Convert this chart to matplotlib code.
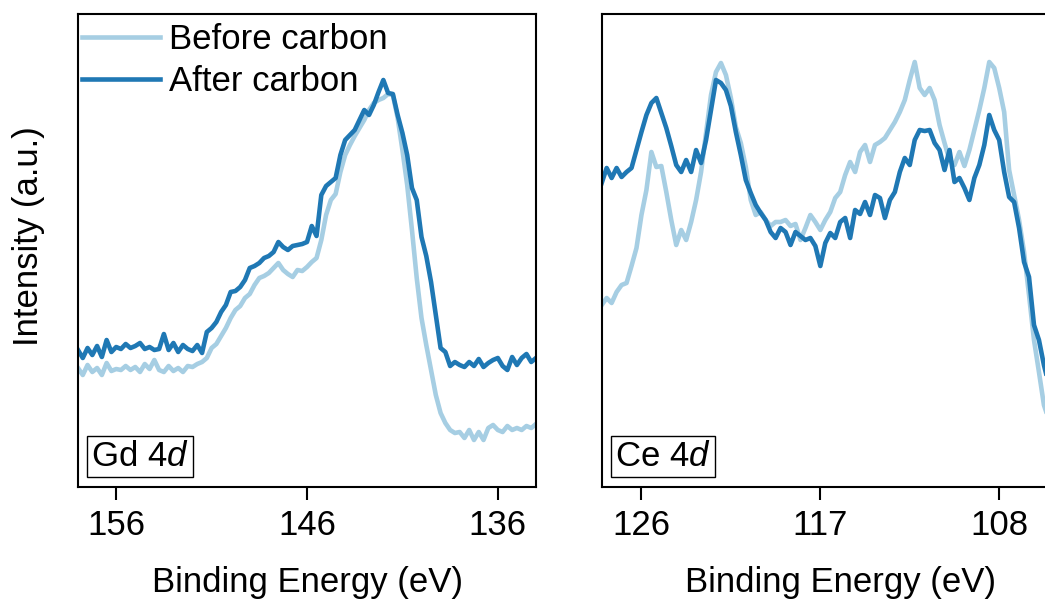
import numpy as np
import matplotlib
matplotlib.use("Agg")
import matplotlib.pyplot as plt

plt.rcParams["font.family"] = ["Liberation Sans", "DejaVu Sans"]
plt.rcParams["mathtext.fontset"] = "custom"
plt.rcParams["mathtext.rm"] = "Liberation Sans"
plt.rcParams["mathtext.it"] = "Liberation Sans:italic"

# ---- Gd 4d region: binding energy grid (eV), 0.25 eV steps from 158 to 134
gd_energy = np.arange(158.0, 133.99, -0.25)
gd_before = [
    119, 112, 122, 115, 119, 112, 124, 116, 118, 117,
    121, 117, 120, 115, 123, 118, 127, 117, 115, 121,
    116, 119, 115, 121, 120, 123, 125, 129, 139, 143,
    151, 159, 169, 177, 181, 189, 193, 202, 209, 211,
    214, 219, 224, 217, 213, 210, 217, 216, 220, 225,
    229, 247, 272, 287, 293, 315, 332, 342, 351, 359,
    367, 377, 384, 387, 389, 393, 392, 369, 337, 302,
    257, 209, 169, 142, 117, 92, 74, 64, 57, 54,
    55, 49, 57, 47, 55, 47, 59, 62, 57, 55,
    61, 57, 59, 57, 61, 59, 63,
]
gd_after = [
    137, 129, 139, 132, 141, 130, 147, 135, 140, 138,
    143, 139, 141, 144, 138, 140, 137, 138, 153, 137,
    144, 135, 142, 138, 136, 142, 134, 155, 159, 165,
    175, 182, 195, 196, 200, 207, 219, 221, 224, 229,
    231, 235, 245, 240, 237, 241, 242, 243, 245, 261,
    251, 292, 301, 305, 309, 332, 347, 352, 357, 367,
    377, 372, 382, 395, 407, 394, 393, 372, 354, 332,
    299, 287, 250, 231, 205, 172, 139, 135, 121, 125,
    122, 120, 125, 121, 128, 120, 124, 127, 129, 121,
    117, 130, 122, 129, 133, 125, 129,
]

# ---- Ce 4d region: binding energy grid (eV), 0.25 eV steps from 128 to 105.5
ce_energy = np.arange(128.0, 105.49, -0.25)
ce_before = [
    182, 189, 184, 195, 202, 204, 221, 239, 272, 297,
    335, 320, 321, 295, 267, 242, 257, 247, 265, 287,
    315, 354, 392, 415, 424, 412, 389, 360, 344, 320,
    287, 272, 275, 267, 261, 265, 265, 267, 261, 263,
    247, 259, 272, 265, 257, 267, 275, 289, 295, 312,
    325, 315, 335, 342, 325, 342, 345, 349, 357, 365,
    375, 387, 407, 425, 399, 392, 399, 387, 362, 344,
    327, 322, 335, 321, 337, 357, 377, 399, 425, 419,
    399, 375, 317, 292, 267, 235, 192, 147, 115, 82,
    67,
]
ce_after = [
    304, 319, 309, 319, 310, 315, 319, 337, 355, 372,
    384, 389, 374, 359, 341, 322, 315, 327, 315, 337,
    324, 347, 377, 407, 404, 397, 381, 355, 332, 307,
    294, 282, 274, 267, 255, 249, 259, 255, 242, 255,
    251, 247, 249, 241, 221, 244, 254, 249, 265, 269,
    249, 277, 273, 285, 272, 292, 289, 269, 287, 295,
    315, 329, 322, 347, 357, 356, 357, 344, 337, 317,
    337, 305, 309, 299, 287, 309, 322, 342, 372, 357,
    347, 315, 290, 285, 259, 225, 210, 162, 147, 122,
    102,
]

series_labels = ["Before carbon", "After carbon"]
colors = ["#a6cee3", "#1f78b4"]
gd_ticks = [156, 146, 136]
ce_ticks = [126, 117, 108]

W, H = 1045, 601
fig = plt.figure(figsize=(W / 100, H / 100), dpi=100)
ax1 = fig.add_axes([78 / W, (H - 487) / H, 458 / W, 473 / H])
ax2 = fig.add_axes([601.7 / W, (H - 487) / H, 477 / W, 473 / H])

FS = 25
LW = 3.3


def style(ax, xlim, ticks, tag):
    ax.set_xlim(*xlim)
    ax.set_ylim(0, 473)
    ax.set_xticks(ticks)
    ax.set_xticklabels([str(t) for t in ticks])
    ax.set_yticks([])
    ax.tick_params(axis="x", direction="out", length=9, width=1.5,
                   pad=7, labelsize=FS)
    for sp in ax.spines.values():
        sp.set_linewidth(1.5)
    ax.set_xlabel("Binding Energy (eV)", fontsize=FS, labelpad=17)
    ax.text(0.028, 0.030, tag, transform=ax.transAxes, fontsize=FS,
            ha="left", va="bottom",
            bbox=dict(boxstyle="square,pad=0.12", fc="white",
                      ec="black", lw=1.0))


ax1.plot(gd_energy, gd_before, color=colors[0], lw=LW, label=series_labels[0])
ax1.plot(gd_energy, gd_after, color=colors[1], lw=LW, label=series_labels[1])
ax2.plot(ce_energy, ce_before, color=colors[0], lw=LW)
ax2.plot(ce_energy, ce_after, color=colors[1], lw=LW)

style(ax1, (158, 134), gd_ticks, r"Gd 4$\mathit{d}$")
style(ax2, (128, 104), ce_ticks, r"Ce 4$\mathit{d}$")

ax1.set_ylabel("Intensity (a.u.)", fontsize=FS)
ax1.yaxis.set_label_coords(-0.073, 0.53)

ax1.legend(loc="upper left", bbox_to_anchor=(-0.011, 1.0), frameon=False,
           fontsize=FS, borderpad=0, borderaxespad=0.27, handlelength=2.25,
           handletextpad=0.25, labelspacing=0.25)

fig.savefig("out.png", dpi=100)
